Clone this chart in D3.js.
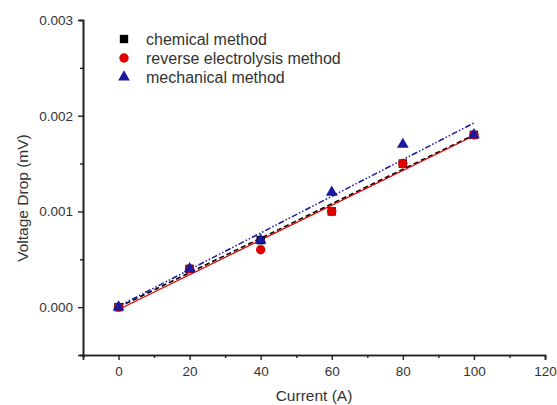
<!DOCTYPE html>
<html>
<head>
<meta charset="utf-8">
<script src="https://cdn.jsdelivr.net/npm/d3@7"></script>
<style>
body { margin: 0; background: #fff; }
text { font-family: "Liberation Sans", Arial, sans-serif; fill: #333; }
</style>
</head>
<body>
<script>
// Width and height
var w = 557;
var h = 405;

// data
var current = [0, 20, 40, 60, 80, 100];
var chemical = [0, 0.0004, 0.0007, 0.0010, 0.0015, 0.0018];
var reverse = [0, 0.0004, 0.0006, 0.0010, 0.0015, 0.0018];
var mechanical = [0, 0.0004, 0.0007, 0.0012, 0.0017, 0.0018];
var seriesNames = ["chemical method", "reverse electrolysis method", "mechanical method"];
var xTicks = [0, 20, 40, 60, 80, 100, 120];
var yTicks = [0, 0.001, 0.002, 0.003];

var series = [
  {name: seriesNames[0], values: chemical, color: "#000", symbol: d3.symbolSquare, size: 70, dash: "5,3", lw: 1.6},
  {name: seriesNames[1], values: reverse, color: "#e00000", symbol: d3.symbolCircle, size: 70, dash: null, lw: 1.2},
  {name: seriesNames[2], values: mechanical, color: "#1a1aa0", symbol: d3.symbolTriangle, size: 60, dash: "6,2,1.5,2,1.5,2", lw: 1.5}
];

var svg = d3.select("body").append("svg")
  .attr("width", w)
  .attr("height", h);

var x = d3.scaleLinear().domain([-10, 120]).range([83, 545]);
var y = d3.scaleLinear().domain([-0.0005, 0.003]).range([355, 20]);

// axes
var xAxis = d3.axisBottom(x).tickValues(xTicks).tickSize(5).tickPadding(6).tickFormat(d3.format("d"));
var yAxis = d3.axisLeft(y).tickValues(yTicks).tickSize(5).tickPadding(5).tickFormat(d3.format(".3f"));

var gx = svg.append("g").attr("transform", "translate(0,355)").call(xAxis);
var gy = svg.append("g").attr("transform", "translate(83,0)").call(yAxis);

// minor ticks
var gxm = svg.append("g").attr("transform", "translate(0,355)")
  .call(d3.axisBottom(x).tickValues(d3.range(-10, 121, 20)).tickSize(3).tickFormat(""));
var gym = svg.append("g").attr("transform", "translate(83,0)")
  .call(d3.axisLeft(y).tickValues([-0.0005, 0.0005, 0.0015, 0.0025]).tickSize(3).tickFormat(""));

[gx, gy, gxm, gym].forEach(function(g) {
  g.select(".domain").attr("stroke", "#222").attr("stroke-width", 1.6);
  g.selectAll(".tick line").attr("stroke", "#222").attr("stroke-width", 1.4);
  g.selectAll(".tick text").style("font-size", "13.5px").attr("fill", "#333");
});

// fit lines (least squares over the points)
function fit(xs, ys) {
  var mx = d3.mean(xs), my = d3.mean(ys);
  var sxy = d3.sum(xs, function(v, i) { return (v - mx) * (ys[i] - my); });
  var sxx = d3.sum(xs, function(v) { return (v - mx) * (v - mx); });
  var b = sxy / sxx;
  return {b: b, a: my - b * mx};
}

var line = d3.line().x(function(d) { return x(d[0]); }).y(function(d) { return y(d[1]); });

series.forEach(function(s) {
  var f = fit(current, s.values);
  var x0 = d3.min(current), x1 = d3.max(current);
  svg.append("path")
    .datum([[x0, f.a + f.b * x0], [x1, f.a + f.b * x1]])
    .attr("d", line)
    .attr("fill", "none")
    .attr("stroke", s.color)
    .attr("stroke-width", s.lw)
    .attr("stroke-dasharray", s.dash);
});

// points
series.forEach(function(s) {
  svg.append("g").selectAll("path")
    .data(s.values)
    .enter().append("path")
    .attr("d", d3.symbol().type(s.symbol).size(s.size))
    .attr("transform", function(d, i) { return "translate(" + x(current[i]) + "," + y(d) + ")"; })
    .attr("fill", s.color);
});

// legend
var legend = svg.append("g").attr("transform", "translate(124,39)");
series.forEach(function(s, i) {
  var row = legend.append("g").attr("transform", "translate(0," + (i * 19) + ")");
  row.append("path")
    .attr("d", d3.symbol().type(s.symbol).size(s.size))
    .attr("fill", s.color);
  row.append("text")
    .attr("x", 22)
    .attr("dy", "0.35em")
    .style("font-size", "16px")
    .text(s.name);
});

// axis titles
svg.append("text")
  .attr("x", 314)
  .attr("y", 401)
  .attr("text-anchor", "middle")
  .style("font-size", "15.5px")
  .text("Current (A)");

svg.append("text")
  .attr("transform", "translate(28,198) rotate(-90)")
  .attr("text-anchor", "middle")
  .style("font-size", "15.5px")
  .text("Voltage Drop (mV)");
</script>
</body>
</html>
